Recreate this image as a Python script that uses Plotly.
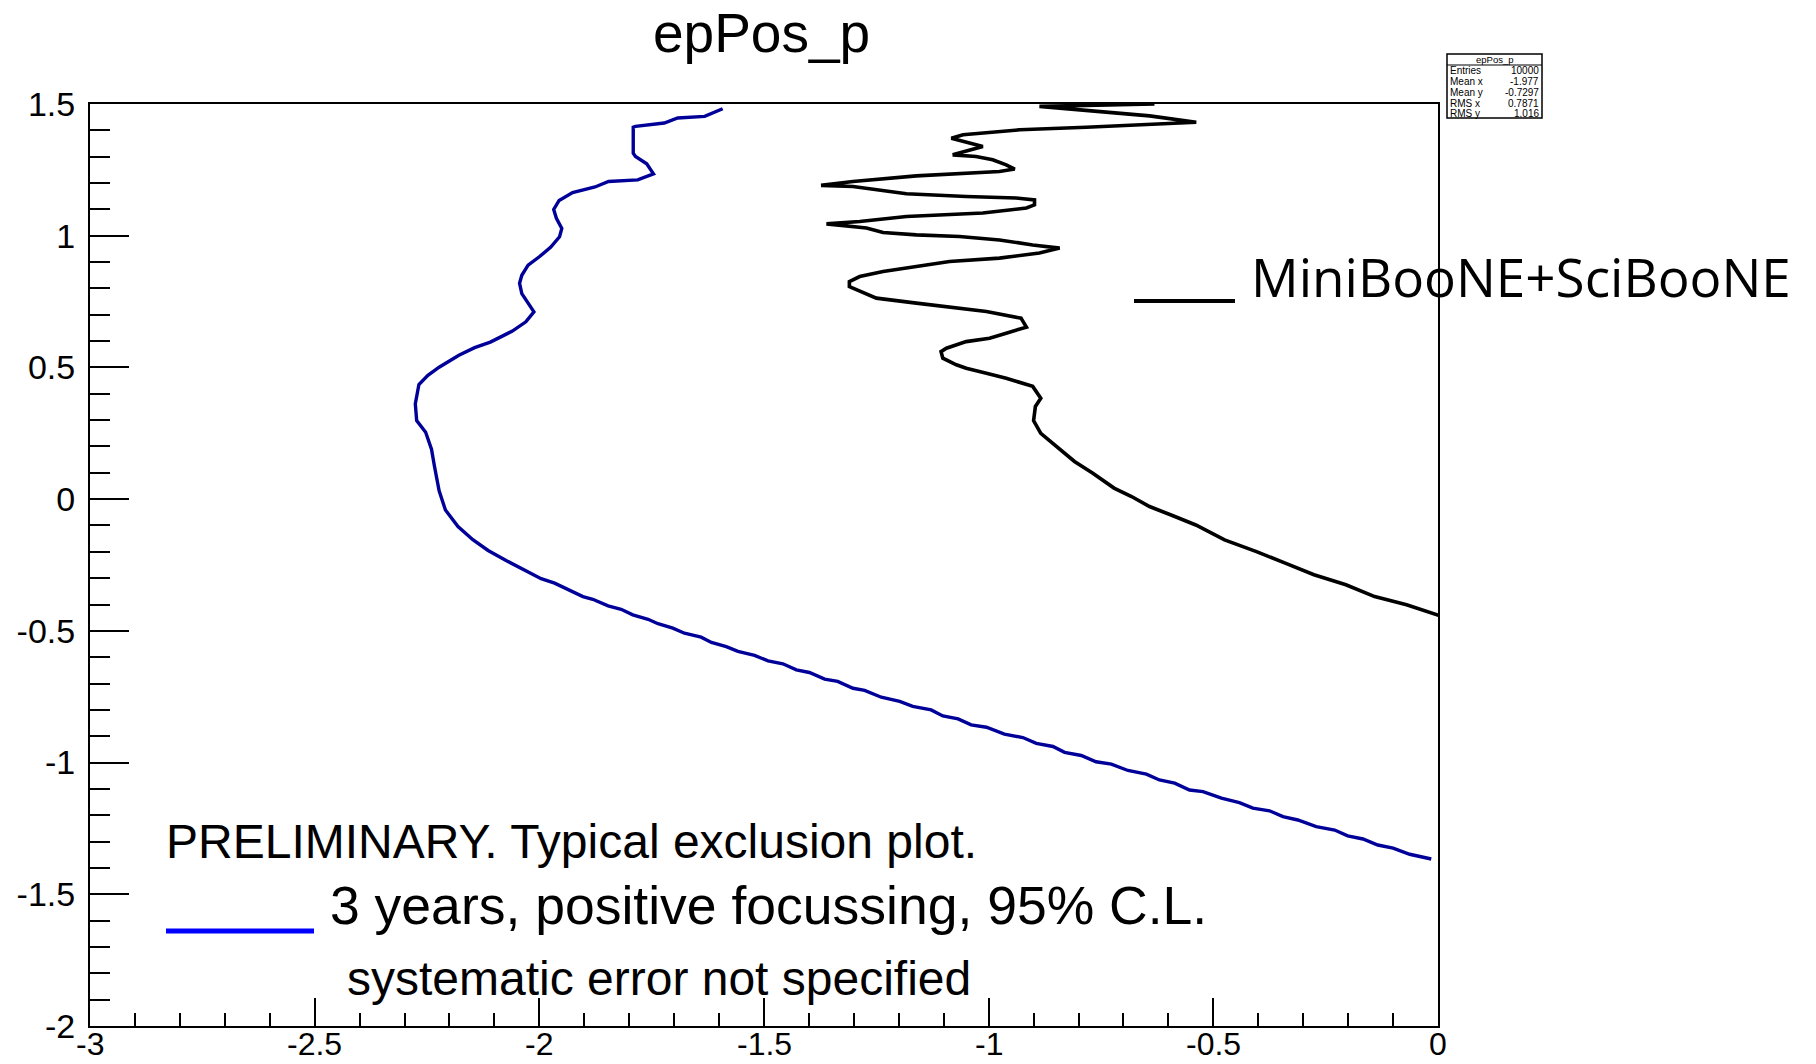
import plotly.graph_objects as go

# ---------------- data ----------------
blue_x = [-1.592, -1.632, -1.692, -1.722, -1.786, -1.791, -1.791, -1.786, -1.761, -1.746,
          -1.781, -1.846, -1.876, -1.926, -1.956, -1.968, -1.962, -1.950, -1.955, -1.975,
          -2.000, -2.025, -2.039, -2.044, -2.039, -2.025, -2.012, -2.030, -2.060, -2.109,
          -2.144, -2.179, -2.223, -2.248, -2.268, -2.276, -2.273, -2.253, -2.240, -2.233,
          -2.223,
          -2.209, -2.181, -2.148, -2.114, -2.074, -2.037, -1.996, -1.966, -1.936, -1.903,
          -1.881, -1.847, -1.818, -1.792, -1.758, -1.736, -1.703, -1.677, -1.640, -1.617,
          -1.584, -1.558, -1.521, -1.491, -1.458, -1.428, -1.399, -1.365, -1.336, -1.302,
          -1.276, -1.239, -1.198, -1.169, -1.128,
          -1.102, -1.068, -1.039, -1.005, -0.965, -0.924, -0.894, -0.857, -0.831, -0.794,
          -0.761, -0.727, -0.690, -0.649, -0.620, -0.586, -0.553, -0.523, -0.482, -0.442,
          -0.412, -0.375, -0.345, -0.312, -0.271, -0.230, -0.201, -0.167, -0.134, -0.100,
          -0.063, -0.015]
blue_y = [1.482, 1.453, 1.447, 1.428, 1.415, 1.412, 1.313, 1.301, 1.273, 1.235,
          1.212, 1.206, 1.185, 1.164, 1.134, 1.100, 1.066, 1.028, 0.996, 0.956,
          0.920, 0.888, 0.850, 0.819, 0.780, 0.742, 0.711, 0.673, 0.638, 0.596,
          0.575, 0.546, 0.501, 0.470, 0.435, 0.362, 0.298, 0.254, 0.190, 0.121,
          0.032,
          -0.041, -0.104, -0.154, -0.195, -0.233, -0.266, -0.302, -0.319, -0.344, -0.370,
          -0.380, -0.405, -0.418, -0.439, -0.456, -0.473, -0.490, -0.509, -0.524, -0.544,
          -0.560, -0.578, -0.593, -0.614, -0.625, -0.648, -0.658, -0.683, -0.692, -0.718,
          -0.726, -0.752, -0.768, -0.787, -0.800,
          -0.823, -0.834, -0.857, -0.866, -0.892, -0.905, -0.927, -0.939, -0.961, -0.973,
          -0.997, -1.006, -1.030, -1.044, -1.066, -1.078, -1.104, -1.110, -1.135, -1.152,
          -1.173, -1.183, -1.205, -1.218, -1.243, -1.256, -1.278, -1.290, -1.313, -1.325,
          -1.348, -1.366]

black_x = [-0.631, -0.887, -0.642, -0.538, -0.783, -0.931, -1.057, -1.083, -1.013, -1.080,
           -1.028, -0.991, -0.961, -0.942, -0.976, -1.161, -1.302, -1.373, -1.302, -1.183,
           -1.050, -0.939, -0.898, -0.898, -0.916, -1.013, -1.183, -1.287, -1.361, -1.317,
           -1.272, -1.235, -1.161, -1.065, -0.976, -0.902, -0.842, -0.887, -0.976, -1.087,
           -1.161, -1.235, -1.287, -1.310, -1.310, -1.250, -1.161, -1.065, -1.005, -0.928,
           -0.916, -0.961, -0.998, -1.050, -1.094, -1.106, -1.102, -1.072, -1.050, -1.005,
           -0.961, -0.902,
           -0.884, -0.896, -0.900, -0.884, -0.849, -0.809, -0.769, -0.721, -0.682, -0.642,
           -0.594, -0.539, -0.475, -0.404, -0.340, -0.276, -0.205, -0.141, -0.070, 0.010]
black_y = [1.500, 1.491, 1.455, 1.431, 1.412, 1.402, 1.383, 1.370, 1.339, 1.307,
           1.301, 1.288, 1.269, 1.253, 1.244, 1.227, 1.206, 1.191, 1.187, 1.159,
           1.149, 1.143, 1.136, 1.117, 1.105, 1.086, 1.073, 1.054, 1.045, 1.038,
           1.029, 1.012, 1.003, 0.997, 0.984, 0.965, 0.953, 0.934, 0.915, 0.902,
           0.883, 0.864, 0.845, 0.826, 0.807, 0.763, 0.744, 0.725, 0.712, 0.687,
           0.653, 0.630, 0.611, 0.598, 0.573, 0.560, 0.535, 0.510, 0.497, 0.478,
           0.459, 0.428,
           0.383, 0.352, 0.298, 0.250, 0.200, 0.143, 0.099, 0.042, 0.010, -0.028,
           -0.060, -0.098, -0.155, -0.199, -0.243, -0.287, -0.325, -0.370, -0.401, -0.446]

title_text = "epPos_p"
stats_title = "epPos_p"
stats_labels = ["Entries", "Mean x", "Mean y", "RMS x", "RMS y"]
stats_values = ["10000", "-1.977", "-0.7297", "0.7871", "1.016"]
legend_black = "MiniBooNE+SciBooNE"
legend_lines = ["PRELIMINARY. Typical exclusion plot.",
                "3 years, positive focussing, 95% C.L.",
                "systematic error not specified"]
x_ticks = [-3, -2.5, -2, -1.5, -1, -0.5, 0]
y_ticks = [-2, -1.5, -1, -0.5, 0, 0.5, 1, 1.5]

# ---------------- layout geometry (pixels) ----------------
W, H = 1816, 1064
L, R, T, B = 90, 1438, 104, 1026


def px(x):
    return (x - L) / (R - L)


def py(y):
    return (B - y) / (B - T)


FONT = "Liberation Sans, Arial, Helvetica, sans-serif"

fig = go.Figure()
fig.add_trace(go.Scatter(x=blue_x, y=blue_y, mode="lines",
                         line=dict(color="#000099", width=3.4), showlegend=False))
fig.add_trace(go.Scatter(x=black_x, y=black_y, mode="lines",
                         line=dict(color="#000000", width=3.6), showlegend=False))

axis_common = dict(showgrid=False, zeroline=False, showline=True, linecolor="black",
                   linewidth=2, mirror=True, ticks="inside", tickcolor="black",
                   tickwidth=2, tickfont=dict(family=FONT, size=34, color="black"))

fig.update_xaxes(range=[-3, 0], tickvals=x_ticks, showticklabels=False,
                 ticklen=28, minor=dict(dtick=0.1, ticks="inside", ticklen=13,
                                        tickwidth=2, tickcolor="black"),
                 **axis_common)
fig.update_yaxes(range=[-2, 1.5], tickvals=y_ticks, ticktext=[f"{v:g}" for v in y_ticks],
                 ticklen=39, ticklabelstandoff=6,
                 minor=dict(dtick=0.1, ticks="inside", ticklen=20,
                            tickwidth=2, tickcolor="black"),
                 **axis_common)

shapes = []
annotations = []

# x tick labels (placed on the x axis scale, tight under the frame like the reference)
for v in x_ticks:
    annotations.append(dict(text=f"{v:g}", xref="x", yref="paper", x=v, y=py(1044),
                            xanchor="center", yanchor="middle", showarrow=False,
                            borderpad=0, font=dict(family=FONT, size=32, color="black")))

# title
annotations.append(dict(text=title_text, xref="paper", yref="paper", x=px(761), y=py(33),
                        xanchor="center", yanchor="middle", showarrow=False,
                        font=dict(family=FONT, size=55, color="black")))

# stats box
sx0, sx1, sy0, sy1 = 1447, 1542, 54, 118
shapes.append(dict(type="rect", xref="paper", yref="paper", x0=px(sx0), x1=px(sx1),
                   y0=py(sy0), y1=py(sy1), line=dict(color="black", width=1.5),
                   fillcolor="white", layer="above"))
shapes.append(dict(type="line", xref="paper", yref="paper", x0=px(sx0), x1=px(sx1),
                   y0=py(65), y1=py(65), line=dict(color="black", width=1)))
annotations.append(dict(text=stats_title, xref="paper", yref="paper", x=px((sx0 + sx1) / 2),
                        y=py(60), xanchor="center", yanchor="middle", showarrow=False,
                        font=dict(family=FONT, size=9.5, color="black")))
row_y = [70.5, 81, 92, 103, 113]
for lab, val, ry in zip(stats_labels, stats_values, row_y):
    annotations.append(dict(text=lab, xref="paper", yref="paper", x=px(1448), y=py(ry),
                            xanchor="left", yanchor="middle", showarrow=False,
                            font=dict(family=FONT, size=10, color="black")))
    annotations.append(dict(text=val, xref="paper", yref="paper", x=px(1541), y=py(ry),
                            xanchor="right", yanchor="middle", showarrow=False,
                            font=dict(family=FONT, size=10, color="black")))

# black legend entry
shapes.append(dict(type="line", xref="paper", yref="paper", x0=px(1134), x1=px(1235),
                   y0=py(301), y1=py(301), line=dict(color="black", width=4)))
annotations.append(dict(text=legend_black, xref="paper", yref="paper", x=px(1249), y=py(276),
                        xanchor="left", yanchor="middle", showarrow=False,
                        font=dict(family="Comic Sans MS, Open Sans, sans-serif", size=53,
                                  color="black")))

# blue legend entry
shapes.append(dict(type="line", xref="paper", yref="paper", x0=px(166), x1=px(314),
                   y0=py(931), y1=py(931), line=dict(color="#0000ff", width=5)))
annotations.append(dict(text=legend_lines[0], xref="paper", yref="paper", x=px(164), y=py(841),
                        xanchor="left", yanchor="middle", showarrow=False,
                        font=dict(family=FONT, size=48, color="black")))
annotations.append(dict(text=legend_lines[1], xref="paper", yref="paper", x=px(328), y=py(905),
                        xanchor="left", yanchor="middle", showarrow=False,
                        font=dict(family=FONT, size=53.5, color="black")))
annotations.append(dict(text=legend_lines[2], xref="paper", yref="paper", x=px(345), y=py(978),
                        xanchor="left", yanchor="middle", showarrow=False,
                        font=dict(family=FONT, size=48, color="black")))

fig.update_layout(width=W, height=H, margin=dict(l=L, r=W - R, t=T, b=H - B, autoexpand=False),
                  plot_bgcolor="white", paper_bgcolor="white", showlegend=False,
                  shapes=shapes, annotations=annotations)

fig.write_html("out.html")
